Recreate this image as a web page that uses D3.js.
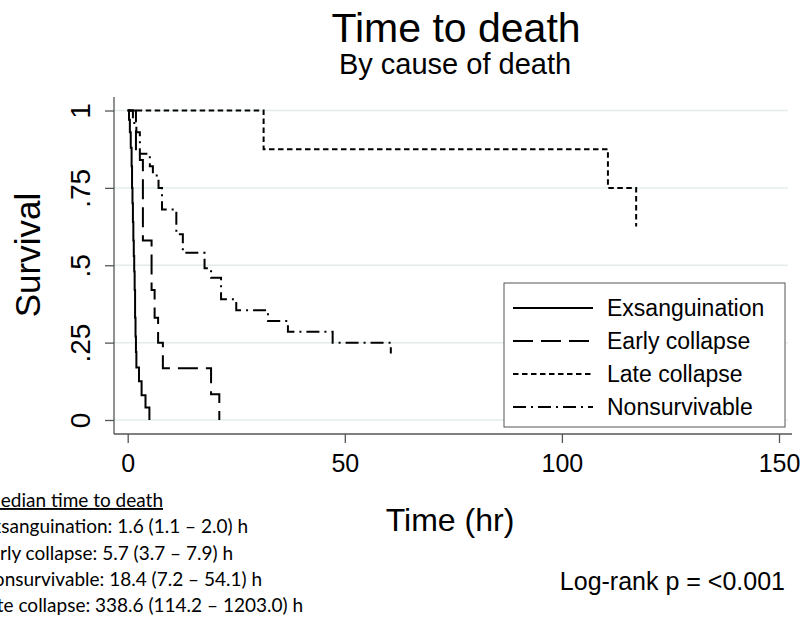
<!DOCTYPE html>
<html>
<head>
<meta charset="utf-8">
<script src="https://cdn.jsdelivr.net/npm/d3@7"></script>
<style>
  body { margin: 0; background: #fff; }
  svg { display: block; font-family: "Liberation Sans", Arial, sans-serif; }
</style>
</head>
<body>
<div id="chart"></div>
<script>
// ---- data (hours, survival) ----
const exsTime   = [0, 0.3, 0.5, 0.7, 0.9, 1.0, 1.1, 1.2, 1.3, 1.4, 1.5, 1.6, 1.7, 1.8, 1.9, 2.0, 2.6, 3.2, 4.1, 5.0];
const exsSurv   = [1, 0.97, 0.93, 0.88, 0.82, 0.75, 0.70, 0.64, 0.58, 0.53, 0.48, 0.42, 0.33, 0.27, 0.22, 0.17, 0.125, 0.08, 0.04, 0];

const earlyTime = [0, 1.9, 2.8, 3.5, 5.5, 6.2, 7.0, 8.1, 19.2, 21.1];
const earlySurv = [1, 0.87, 0.84, 0.58, 0.42, 0.33, 0.25, 0.167, 0.083, 0];

const lateTime  = [0, 31.3, 110.6, 117.1];
const lateSurv  = [1, 0.875, 0.75, 0.625];

const nonTime   = [0, 1.2, 2.0, 2.8, 5.1, 5.8, 7.1, 7.9, 11.2, 12.7, 17.7, 19.2, 21.5, 25.0, 32.3, 36.9, 47.2, 60.6];
const nonSurv   = [1, 0.96, 0.93, 0.86, 0.82, 0.79, 0.75, 0.68, 0.60, 0.54, 0.49, 0.46, 0.39, 0.355, 0.32, 0.285, 0.25, 0.215];

const seriesNames = ["Exsanguination", "Early collapse", "Late collapse", "Nonsurvivable"];
const seriesDash  = [null, "20,8", "5.5,3.5", "13,5,2,5"];

const xTicks = [0, 50, 100, 150];
const yTicks = [0, 0.25, 0.5, 0.75, 1];
const yTickLabels = ["0", ".25", ".5", ".75", "1"];

const medianLines = [
  "Median time to death",
  "Exsanguination: 1.6 (1.1 \u2013 2.0) h",
  "Early collapse: 5.7 (3.7 \u2013 7.9) h",
  "Nonsurvivable: 18.4 (7.2 \u2013 54.1) h",
  "Late collapse: 338.6 (114.2 \u2013 1203.0) h"
];
const medianEnds = [163, 248, 233, 262, 303];

const series = [
  { name: seriesNames[0], time: exsTime, surv: exsSurv, dash: seriesDash[0] },
  { name: seriesNames[1], time: earlyTime, surv: earlySurv, dash: seriesDash[1] },
  { name: seriesNames[2], time: lateTime, surv: lateSurv, dash: seriesDash[2] },
  { name: seriesNames[3], time: nonTime, surv: nonSurv, dash: seriesDash[3] }
];

const width = 808, height = 622;
const plot = { left: 114, right: 792, top: 97, bottom: 434 };

const svg = d3.select("#chart").append("svg")
  .attr("width", width)
  .attr("height", height);

const x = d3.scaleLinear().domain([0, 150]).range([127.7, 779]);
const y = d3.scaleLinear().domain([0, 1]).range([420, 110.5]);

// gridlines
svg.append("g")
  .selectAll("line")
  .data(yTicks)
  .join("line")
  .attr("x1", plot.left).attr("x2", 788)
  .attr("y1", d => y(d)).attr("y2", d => y(d))
  .attr("stroke", "#e3ecec")
  .attr("stroke-width", 1.5);

// axes
const xAxis = svg.append("g")
  .attr("transform", `translate(0,${plot.bottom})`)
  .call(d3.axisBottom(x).tickValues(xTicks).tickSize(9).tickFormat(d3.format("d")));
xAxis.select(".domain").remove();
xAxis.selectAll(".tick line").attr("stroke", "#555").attr("stroke-width", 1.3);
xAxis.selectAll("text")
  .attr("dy", null).attr("y", 38)
  .attr("font-size", 25).attr("fill", "#000")
  .attr("font-family", "Liberation Sans, Arial, sans-serif");

const yAxis = svg.append("g")
  .attr("transform", `translate(${plot.left},0)`)
  .call(d3.axisLeft(y).tickValues(yTicks).tickSize(9).tickFormat((d, i) => yTickLabels[i]));
yAxis.select(".domain").remove();
yAxis.selectAll(".tick line").attr("stroke", "#555").attr("stroke-width", 1.3);
yAxis.selectAll("text")
  .attr("x", 0).attr("y", -24).attr("dy", null)
  .attr("transform", "rotate(-90)")
  .attr("text-anchor", "middle")
  .attr("font-size", 28).attr("fill", "#000")
  .attr("font-family", "Liberation Sans, Arial, sans-serif");

svg.append("line")
  .attr("x1", plot.left).attr("x2", plot.right)
  .attr("y1", plot.bottom).attr("y2", plot.bottom)
  .attr("stroke", "#555").attr("stroke-width", 1.3);
svg.append("line")
  .attr("x1", plot.left).attr("x2", plot.left)
  .attr("y1", plot.top).attr("y2", plot.bottom)
  .attr("stroke", "#555").attr("stroke-width", 1.3);

// survival curves
const line = d3.line()
  .x(d => x(d[0]))
  .y(d => y(d[1]))
  .curve(d3.curveStepAfter);

svg.append("g")
  .selectAll("path")
  .data(series)
  .join("path")
  .attr("d", s => line(d3.zip(s.time, s.surv)))
  .attr("fill", "none")
  .attr("stroke", "#000")
  .attr("stroke-width", 2)
  .attr("stroke-dasharray", s => s.dash);

// legend
const legend = svg.append("g");
legend.append("rect")
  .attr("x", 504).attr("y", 283)
  .attr("width", 281).attr("height", 144)
  .attr("fill", "#fff")
  .attr("stroke", "#555").attr("stroke-width", 1);
const rows = legend.selectAll(".row")
  .data(series)
  .join("g")
  .attr("class", "row")
  .attr("transform", (d, i) => `translate(0,${308 + i * 33})`);
rows.append("line")
  .attr("x1", 513).attr("x2", 593)
  .attr("stroke", "#000").attr("stroke-width", 2)
  .attr("stroke-dasharray", d => d.dash);
rows.append("text")
  .attr("x", 607).attr("y", 8)
  .attr("font-size", 23)
  .text(d => d.name);

// titles
svg.append("text")
  .attr("x", 456).attr("y", 42)
  .attr("text-anchor", "middle")
  .attr("font-size", 41)
  .text("Time to death");
svg.append("text")
  .attr("x", 455).attr("y", 74)
  .attr("text-anchor", "middle")
  .attr("font-size", 29)
  .text("By cause of death");

svg.append("text")
  .attr("transform", "translate(40,255) rotate(-90)")
  .attr("text-anchor", "middle")
  .attr("font-size", 35)
  .text("Survival");

svg.append("text")
  .attr("x", 450).attr("y", 531)
  .attr("text-anchor", "middle")
  .attr("font-size", 32)
  .text("Time (hr)");

svg.append("text")
  .attr("x", 785).attr("y", 590)
  .attr("text-anchor", "end")
  .attr("font-size", 25)
  .text("Log-rank p = <0.001");

// median block, partly cut off at the left edge as in the source
svg.append("g")
  .selectAll("text")
  .data(medianLines)
  .join("text")
  .attr("x", (d, i) => medianEnds[i])
  .attr("y", (d, i) => 507 + i * 26.3)
  .attr("text-anchor", "end")
  .attr("font-family", "Lato, 'Open Sans', sans-serif")
  .attr("font-size", 19)
  .attr("text-decoration", (d, i) => i === 0 ? "underline" : null)
  .text(d => d);
</script>
</body>
</html>
